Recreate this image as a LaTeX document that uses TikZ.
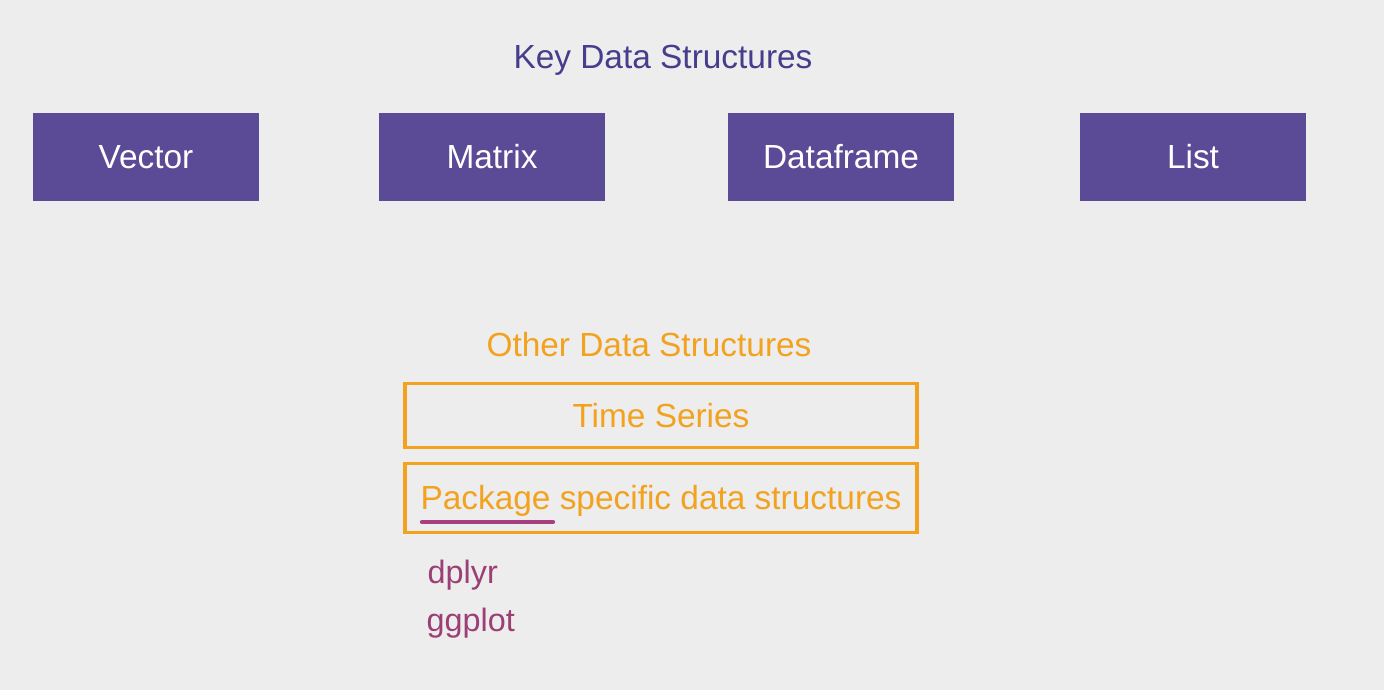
\documentclass[tikz,border=0pt]{standalone}
\usepackage{fontspec}
\setmainfont{Liberation Sans}
\usetikzlibrary{positioning}
\definecolor{bgGrey}{HTML}{EDEDED}
\definecolor{keyPurple}{HTML}{5B4B96}
\definecolor{titlePurple}{HTML}{463D8C}
\definecolor{otherOrange}{HTML}{F2A21E}
\definecolor{pkgMagenta}{HTML}{9B3F74}
\definecolor{markPink}{HTML}{A8407F}

\begin{document}
\begin{tikzpicture}[
    x=0.01cm, y=-0.01cm,
    every node/.style={font=\fontsize{9.5}{11}\selectfont, text height=6.8pt, text depth=0pt},
    keybox/.style={fill=keyPurple, text=white, minimum width=2.26cm, minimum height=0.88cm, inner sep=0pt},
    otherbox/.style={draw=otherOrange, line width=1pt, text=otherOrange, minimum width=5.12cm, inner sep=0pt},
    pkgname/.style={text=pkgMagenta, anchor=base west, inner sep=0pt, font=\fontsize{9.2}{10}\selectfont}
]
   % Background
   \fill[bgGrey] (0,0) rectangle (1384,690);
   \useasboundingbox (0,0) rectangle (1384,690);

   % Key structures
   \node[text=titlePurple] (keytitle) at (663,57) {Key Data Structures};
   \node[keybox] (vector) at (146,157) {Vector};
   \node[keybox] (matrix) at (492,157) {Matrix};
   \node[keybox] (dataframe) at (841,157) {Dataframe};
   \node[keybox] (list) at (1193,157) {List};

   % Other structures
   \node[text=otherOrange] (othertitle) at (649,344.5) {Other Data Structures};
   \node[otherbox, minimum height=0.64cm] (timeseries) at (661,415.5) {Time Series};
   \node[otherbox, minimum height=0.69cm] (pkgspecific) at (661,498) {Package specific data structures};

   % Packages
   \node[pkgname] (dplyr) at (427,583) {dplyr};
   \node[pkgname] (ggplot) at (426,631) {ggplot};

   % Underline
   \coordinate (ulstart) at (422,522);
   \coordinate (ulend) at (553,522);
   \draw[markPink, line width=1.2pt, line cap=round] (ulstart) -- (ulend);
\end{tikzpicture}
\end{document}
